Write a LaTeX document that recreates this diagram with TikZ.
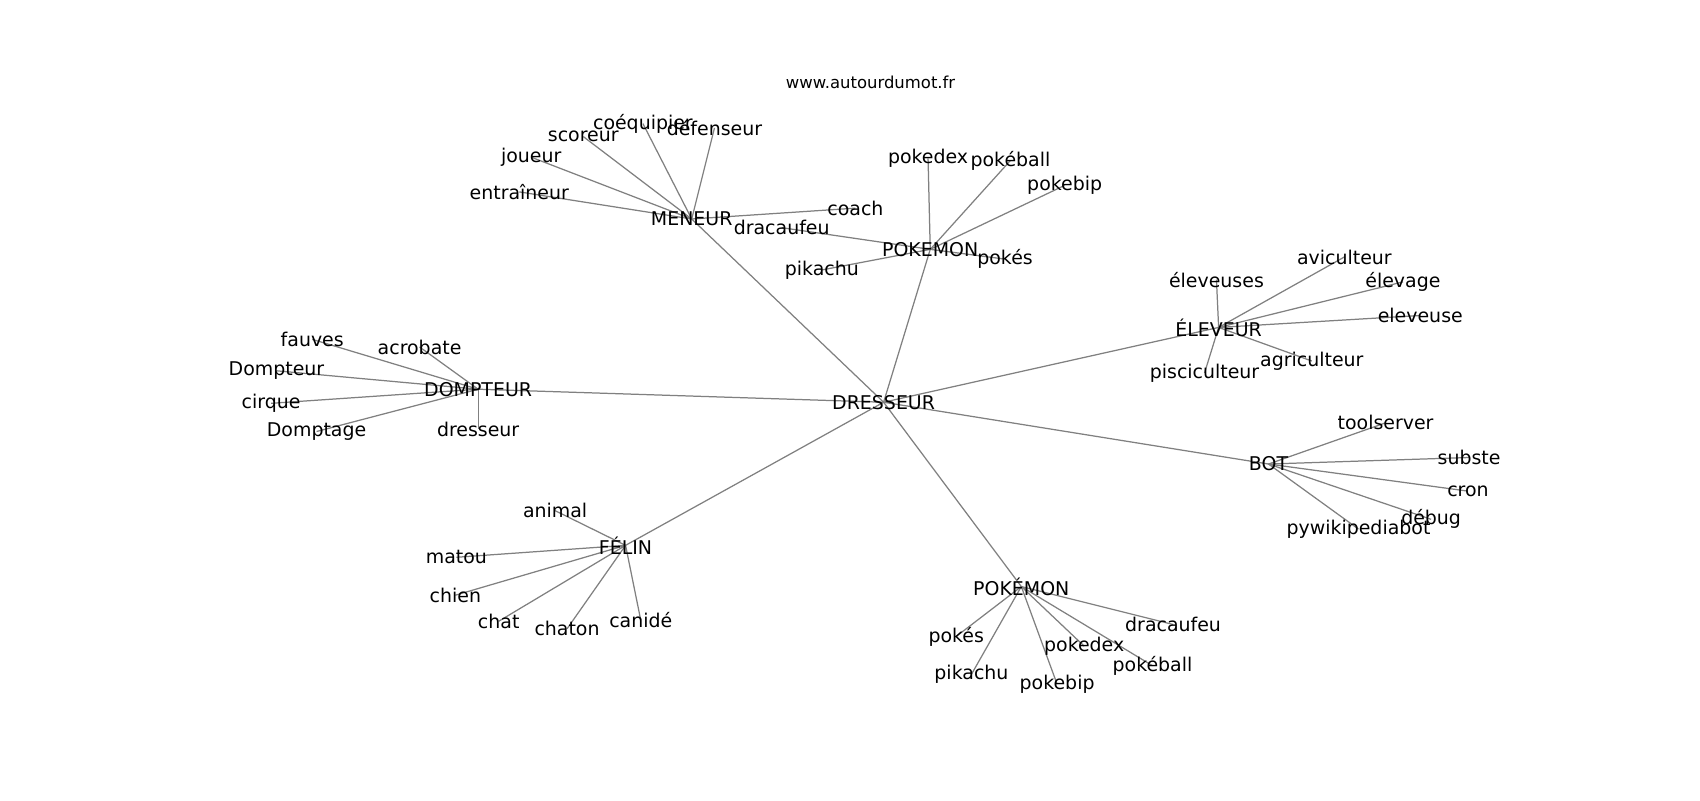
\documentclass[tikz,border=0pt]{standalone}
\usepackage{fontspec}
\setmainfont{DejaVu Sans}
\usetikzlibrary{backgrounds}

\tikzset{
  word/.style={inner sep=0pt, font=\fontsize{13.7}{16}\selectfont},
  link/.style={draw=black!50, line width=0.9pt}
}

\begin{document}
\begin{tikzpicture}[x=0.010842in, y=-0.010842in]
            \useasboundingbox (0,0) rectangle (1568,738);
            \node[inner sep=0pt, font=\fontsize{11.9}{14}\selectfont] (title) at (803,76) {www.autourdumot.fr};

            % Centre
            \node[word] (dresseur) at (815,371) {DRESSEUR};

            % MENEUR
            \node[word] (meneur) at (638,202) {MENEUR};
            \node[word] (mEntraineur) at (479,177) {entraîneur};
            \node[word] (mJoueur) at (490,145) {joueur};
            \node[word] (mScoreur) at (538,126) {scoreur};
            \node[word] (mCoequipier) at (593,114) {coéquipier};
            \node[word] (mDefenseur) at (659,118) {défenseur};
            \node[word] (mCoach) at (789,192) {coach};

            % POKEMON - top
            \node[word] (pokemonA) at (858,230) {POKEMON};
            \node[word] (aDracaufeu) at (721,210) {dracaufeu};
            \node[word] (aPikachu) at (758,249) {pikachu};
            \node[word] (aPokes) at (927,239) {pokés};
            \node[word] (aPokedex) at (856,146) {pokedex};
            \node[word] (aPokeball) at (932,148) {pokéball};
            \node[word] (aPokebip) at (982,171) {pokebip};

            % DOMPTEUR
            \node[word] (dompteur) at (441,359) {DOMPTEUR};
            \node[word] (dFauves) at (288,313) {fauves};
            \node[word] (dAcrobate) at (387,320) {acrobate};
            \node[word] (dDompteur) at (255,342) {Dompteur};
            \node[word] (dCirque) at (250,372) {cirque};
            \node[word] (dDomptage) at (292,398) {Domptage};
            \node[word] (dDresseur) at (441,396) {dresseur};

            % FELIN
            \node[word] (felin) at (577,503) {FÉLIN};
            \node[word] (fAnimal) at (512,471) {animal};
            \node[word] (fMatou) at (421,514) {matou};
            \node[word] (fChien) at (420,549) {chien};
            \node[word] (fChat) at (460,573) {chat};
            \node[word] (fChaton) at (523,580) {chaton};
            \node[word] (fCanide) at (591,572) {canidé};

            % ELEVEUR
            \node[word] (eleveur) at (1124,302) {ÉLEVEUR};
            \node[word] (eEleveuses) at (1122,258) {éleveuses};
            \node[word] (eAviculteur) at (1240,237) {aviculteur};
            \node[word] (eElevage) at (1294,260) {élevage};
            \node[word] (eEleveuse) at (1310,291) {eleveuse};
            \node[word] (eAgriculteur) at (1210,333) {agriculteur};
            \node[word] (ePisciculteur) at (1111,344) {pisciculteur};

            % BOT
            \node[word] (bot) at (1170,428) {BOT};
            \node[word] (bToolserver) at (1278,390) {toolserver};
            \node[word] (bSubste) at (1355,422) {subste};
            \node[word] (bCron) at (1354,453) {cron};
            \node[word] (bDebug) at (1320,479) {débug};
            \node[word] (bPywiki) at (1253,488) {pywikipediabot};

            % POKEMON - bottom
            \node[word] (pokemonB) at (942,541) {POKÉMON};
            \node[word] (bbDracaufeu) at (1082,576) {dracaufeu};
            \node[word] (bbPokes) at (882,587) {pokés};
            \node[word] (bbPokedex) at (1000,596) {pokedex};
            \node[word] (bbPokeball) at (1063,614) {pokéball};
            \node[word] (bbPikachu) at (896,622) {pikachu};
            \node[word] (bbPokebip) at (975,631) {pokebip};

            % Edges behind the words
            \begin{scope}[on background layer]
                \foreach \hub in {meneur, pokemonA, dompteur, felin, eleveur, bot, pokemonB}
                    \draw[link] (dresseur.center) -- (\hub.center);
                \foreach \leaf in {mEntraineur, mJoueur, mScoreur, mCoequipier, mDefenseur, mCoach}
                    \draw[link] (meneur.center) -- (\leaf.center);
                \foreach \leaf in {aDracaufeu, aPikachu, aPokes, aPokedex, aPokeball, aPokebip}
                    \draw[link] (pokemonA.center) -- (\leaf.center);
                \foreach \leaf in {dFauves, dAcrobate, dDompteur, dCirque, dDomptage, dDresseur}
                    \draw[link] (dompteur.center) -- (\leaf.center);
                \foreach \leaf in {fAnimal, fMatou, fChien, fChat, fChaton, fCanide}
                    \draw[link] (felin.center) -- (\leaf.center);
                \foreach \leaf in {eEleveuses, eAviculteur, eElevage, eEleveuse, eAgriculteur, ePisciculteur}
                    \draw[link] (eleveur.center) -- (\leaf.center);
                \foreach \leaf in {bToolserver, bSubste, bCron, bDebug, bPywiki}
                    \draw[link] (bot.center) -- (\leaf.center);
                \foreach \leaf in {bbDracaufeu, bbPokes, bbPokedex, bbPokeball, bbPikachu, bbPokebip}
                    \draw[link] (pokemonB.center) -- (\leaf.center);
            \end{scope}
        \end{tikzpicture}
\end{document}
